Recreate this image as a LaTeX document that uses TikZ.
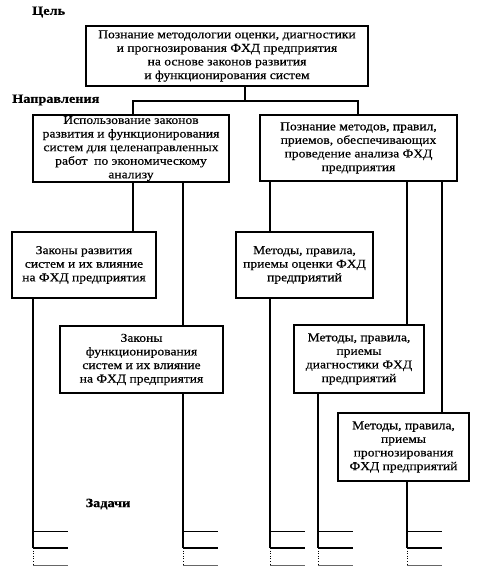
\documentclass[tikz,border=0pt]{standalone}
\usepackage{fontspec}
\setmainfont{Liberation Serif}[FakeStretch=1.13, FakeBold=0.4]
\newcommand\bxfont{\fontsize{12}{13.6}\selectfont}
\newcommand\lbfont{\fontsize{12.6}{14}\selectfont\bfseries}
\newcommand\drawticks[1]{%
  \draw[line width=0.9pt] ([yshift=17pt]#1) -- ++(35,0);
  \draw[line width=1.3pt] (#1) -- ++(35,0);
  \draw[dotted, line width=0.6pt] (#1) -- ++(0,17);
  \draw[line width=0.8pt, black!60] ([yshift=-17pt]#1) -- ++(35,0);
}
\begin{document}
\begin{tikzpicture}[x=1pt,y=-1pt,
  box/.style={draw, line width=1.4pt, align=center, inner sep=0pt, font=\bxfont},
  ln/.style={line width=1.3pt},
  lbl/.style={font=\lbfont, inner sep=0pt}]
\useasboundingbox (0,0) rectangle (480,573);
\node[box, minimum width=282pt, minimum height=60pt] (top) at (227,56)
  {Познание методологии оценки, диагностики\\и прогнозирования ФХД предприятия\\на основе законов развития\\и функционирования систем};
\node[box, minimum width=196pt, minimum height=67pt] (L1) at (131,148.5)
  {Использование законов\\развития и функционирования\\систем для целенаправленных\\работ\ \ по экономическому\\анализу};
\node[box, minimum width=197pt, minimum height=66pt] (R1) at (358.5,148)
  {Познание методов, правил,\\приемов, обеспечивающих\\проведение анализа ФХД\\предприятия};
\node[box, minimum width=144pt, minimum height=66pt] (A) at (84,265)
  {Законы развития\\систем и их влияние\\на ФХД предприятия};
\node[box, minimum width=163pt, minimum height=67pt] (B) at (141.5,359.5)
  {Законы\\функционирования\\систем и их влияние\\на ФХД предприятия};
\node[box, minimum width=137pt, minimum height=66pt] (C) at (304.5,265)
  {Методы, правила,\\приемы оценки ФХД\\предприятий};
\node[box, minimum width=130pt, minimum height=68pt] (D) at (359,359)
  {Методы, правила,\\приемы\\диагностики ФХД\\предприятий};
\node[box, minimum width=131pt, minimum height=68pt] (E) at (403.5,447)
  {Методы, правила,\\приемы\\прогнозирования\\ФХД предприятий};
\node[lbl, anchor=west] (goal) at (32,12) {Цель};
\node[lbl, anchor=west] (dir) at (12,100) {Направления};
\node[lbl] (tasks) at (108,504) {Задачи};
% columns
\coordinate (j) at (245,101);
\coordinate (x133) at (133,0);
\coordinate (x358) at (358,0);
\coordinate (x183) at (183,0);
\coordinate (x407) at (407,0);
\coordinate (x442) at (442,0);
\coordinate (x270) at (270,0);
\coordinate (kA) at (33,548);
\coordinate (kB) at (183,548);
\coordinate (kC) at (270,548);
\coordinate (kD) at (318,548);
\coordinate (kE) at (407,548);
\draw[ln] (top.south -| j) -- (j);
\draw[ln] (L1.north -| x133) |- (j) -| (R1.north -| x358);
\draw[ln] (L1.south -| x133) -- (A.north -| x133);
\draw[ln] (L1.south -| x183) -- (B.north -| x183);
\draw[ln] (R1.south -| x270) -- (C.north -| x270);
\draw[ln] (R1.south -| x407) -- (D.north -| x407);
\draw[ln] (R1.south -| x442) -- (E.north -| x442);
\draw[ln] (A.south -| kA) -- (kA);
\draw[ln] (B.south -| kB) -- (kB);
\draw[ln] (C.south -| kC) -- (kC);
\draw[ln] (D.south -| kD) -- (kD);
\draw[ln] (E.south -| kE) -- (kE);
\drawticks{kA}
\drawticks{kB}
\drawticks{kC}
\drawticks{kD}
\drawticks{kE}
\end{tikzpicture}
\end{document}
